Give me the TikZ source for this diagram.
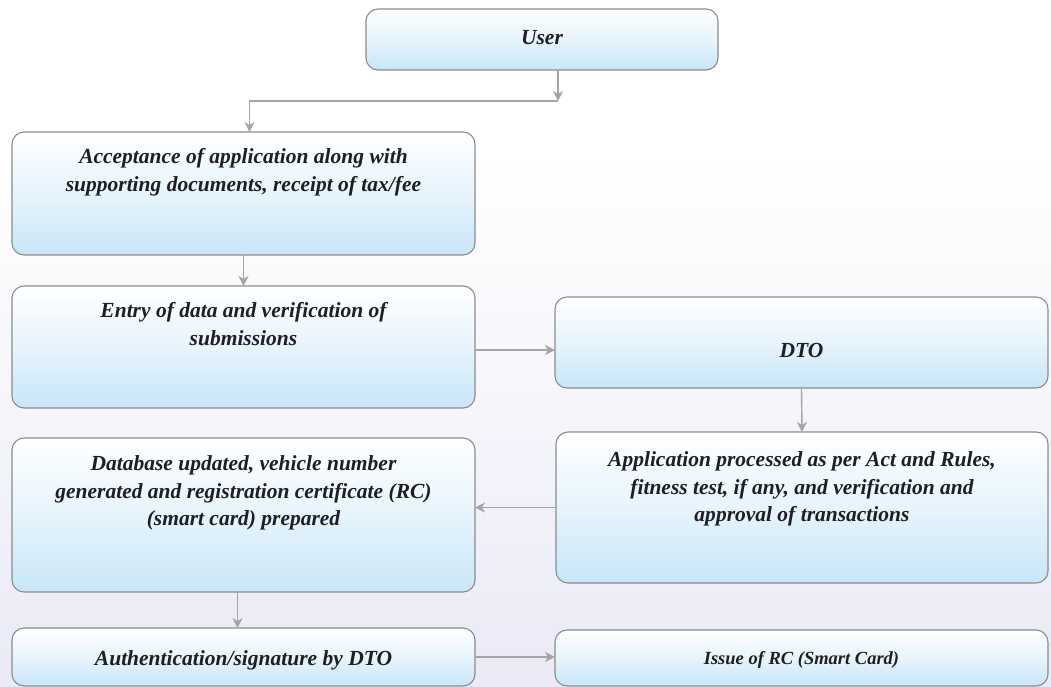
\documentclass[tikz,border=0pt]{standalone}
\usepackage{fontspec}
\setmainfont{Liberation Serif}
\usetikzlibrary{arrows.meta,calc}

\definecolor{boxblue}{RGB}{200,230,248}
\definecolor{boxline}{RGB}{140,140,140}
\definecolor{linkgray}{RGB}{165,165,165}
\definecolor{inkdark}{RGB}{30,30,36}
\definecolor{hazelav}{RGB}{234,234,247}

\tikzset{
  stage/.style={draw=boxline, line width=1.1pt, rounded corners=12pt,
    top color=white, bottom color=boxblue, middle color=white!55!boxblue,
    inner sep=0pt, outer sep=0pt},
  caption/.style={font=\fontsize{21.5}{27.5}\selectfont\bfseries\itshape,
    text=inkdark, align=center, inner sep=0pt},
  smallcaption/.style={caption, font=\fontsize{18.5}{24}\selectfont\bfseries\itshape},
  link/.style={draw=linkgray, line width=1.4pt,
    -{Stealth[length=10pt,width=10pt,inset=3pt]}}
}

\begin{document}
\begin{tikzpicture}[x=1pt,y=-1pt]
  % page area with a faint lavender haze towards the bottom
  \useasboundingbox (0,0) rectangle (1051,687);
  \shade[top color=white, bottom color=hazelav] (0,150) rectangle (1051,687);

  % process stages
  \node[stage, minimum width=352pt, minimum height=61pt]  (user)  at (542,39.5) {};
  \node[stage, minimum width=463pt, minimum height=123pt] (acc)   at (243.5,193.5) {};
  \node[stage, minimum width=463pt, minimum height=122pt] (entry) at (243.5,347) {};
  \node[stage, minimum width=493pt, minimum height=91pt]  (dto)   at (801.5,342.5) {};
  \node[stage, minimum width=492pt, minimum height=151pt] (app)   at (802,507.5) {};
  \node[stage, minimum width=463pt, minimum height=154pt] (db)    at (243.5,515) {};
  \node[stage, minimum width=463pt, minimum height=58pt]  (auth)  at (243.5,657) {};
  \node[stage, minimum width=493pt, minimum height=56pt]  (issue) at (801.5,658) {};

  % stage texts
  \node[caption] (usert)  at ([yshift=-29pt]user.north) {User};
  \node[caption] (acct)   at ([yshift=-40pt]acc.north)
    {Acceptance of application along with\\supporting documents, receipt of tax/fee};
  \node[caption] (entryt) at ([yshift=-38pt]entry.north)
    {Entry of data and verification of\\submissions};
  \node[caption] (dtot)   at ([yshift=-53pt]dto.north) {DTO};
  \node[caption] (appt)   at ([yshift=-57pt]app.north)
    {Application processed as per Act and Rules,\\fitness test, if any, and verification and\\approval of transactions};
  \node[caption] (dbt)    at ([yshift=-55pt]db.north)
    {Database updated, vehicle number\\generated and registration certificate (RC)\\(smart card) prepared};
  \node[caption] (autht)  at ([yshift=-32pt]auth.north) {Authentication/signature by DTO};
  \node[smallcaption] (issuet) at ([yshift=-30pt]issue.north) {Issue of RC (Smart Card)};

  % connectors
  \coordinate (ujoin) at (558,101);
  \draw[link] (user.south -| ujoin) -- (ujoin);
  \draw[link] (ujoin) -| ([xshift=6pt]acc.north);
  \draw[link] (acc.south) -- (entry.north);
  \draw[link] ([yshift=-3pt]entry.east) -- ([yshift=-3pt]entry.east -| dto.west);
  \draw[link] (dto.south) -- (app.north);
  \draw[link] (app.west) -- (app.west -| db.east);
  \draw[link] ([xshift=-6pt]db.south) -- ([xshift=-6pt]auth.north);
  \draw[link] (auth.east) -- (auth.east -| issue.west);
\end{tikzpicture}
\end{document}
